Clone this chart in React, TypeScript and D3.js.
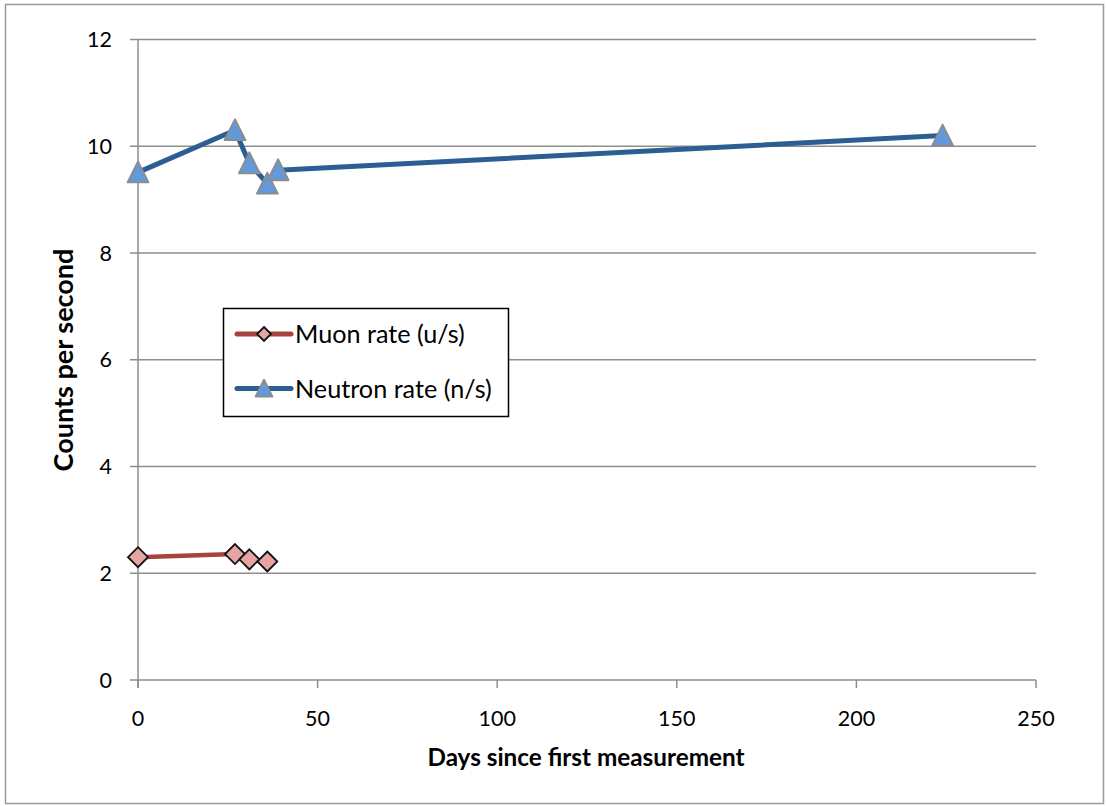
import React from "react";
import * as d3 from "d3";

// Measurement days and rates
const muonDays = [0, 27, 31, 36];
const muonRates = [2.3, 2.36, 2.26, 2.22];
const neutronDays = [0, 27, 31, 36, 39, 224];
const neutronRates = [9.51, 10.3, 9.68, 9.3, 9.55, 10.2];
const xTicks = [0, 50, 100, 150, 200, 250];
const yTicks = [0, 2, 4, 6, 8, 10, 12];
const seriesNames = ["Muon rate (u/s)", "Neutron rate (n/s)"];

const W = 1106;
const H = 806;
const plot = { left: 138, right: 1036, top: 39.5, bottom: 680 };
const font = "Lato, 'Open Sans', sans-serif";

const muonColor = "#A8423E";
const muonFill = "#E6A5A2";
const neutronColor = "#2C5D93";
const neutronFill = "#6399D8";
const gridColor = "#8E8E8E";

export default function App() {
  const x = d3.scaleLinear().domain([0, 250]).range([plot.left, plot.right]);
  const y = d3.scaleLinear().domain([0, 12]).range([plot.bottom, plot.top]);
  const line = d3.line<[number, number]>().x((d) => x(d[0])).y((d) => y(d[1]));

  const muon: [number, number][] = muonDays.map((d, i) => [d, muonRates[i]]);
  const neutron: [number, number][] = neutronDays.map((d, i) => [d, neutronRates[i]]);

  const diamond = (cx: number, cy: number, key: string | number, r = 10) => (
    <path
      key={key}
      d={`M${cx},${cy - r}L${cx + r},${cy}L${cx},${cy + r}L${cx - r},${cy}Z`}
      fill={muonFill}
      stroke="#111"
      strokeWidth={1.8}
    />
  );
  const triangle = (cx: number, cy: number, key: string | number, r = 10.5) => (
    <path
      key={key}
      d={`M${cx},${cy - r * 1.05}L${cx + r},${cy + r * 0.95}L${cx - r},${cy + r * 0.95}Z`}
      fill={neutronFill}
      stroke="#8C8C8C"
      strokeWidth={1.8}
      strokeLinejoin="round"
    />
  );

  const legend = { x: 223.5, y: 308.5, w: 285, h: 108 };

  return (
    <svg width={W} height={H} style={{ position: "absolute", left: 0, top: 0 }}>
      <rect x={0} y={0} width={W} height={H} fill="#fff" />
      <rect x={5.5} y={4.5} width={1098} height={799} fill="#fff" stroke="#9A9A9A" strokeWidth={1.5} />

      {/* horizontal grid + y ticks */}
      {yTicks.map((t) => (
        <g key={t}>
          <line x1={plot.left - 8} x2={plot.right} y1={y(t)} y2={y(t)} stroke={gridColor} strokeWidth={1.5} />
          <text x={112} y={y(t)} dy="0.36em" textAnchor="end" fontFamily={font} fontSize={21.5} fill="#000">
            {t}
          </text>
        </g>
      ))}
      {/* y axis */}
      <line x1={plot.left} x2={plot.left} y1={plot.top} y2={plot.bottom + 8} stroke={gridColor} strokeWidth={1.5} />
      {/* x ticks */}
      {xTicks.map((t) => (
        <g key={t}>
          <line x1={x(t)} x2={x(t)} y1={plot.bottom} y2={plot.bottom + 8} stroke={gridColor} strokeWidth={1.5} />
          <text x={x(t)} y={718} dy="0.36em" textAnchor="middle" fontFamily={font} fontSize={21.5} fill="#000">
            {t}
          </text>
        </g>
      ))}

      {/* series */}
      <path d={line(muon) || ""} fill="none" stroke={muonColor} strokeWidth={4.5} strokeLinejoin="round" />
      <path d={line(neutron) || ""} fill="none" stroke={neutronColor} strokeWidth={5} strokeLinejoin="round" />
      {muon.map((d, i) => diamond(x(d[0]), y(d[1]), i))}
      {neutron.map((d, i) => triangle(x(d[0]), y(d[1]), i))}

      {/* axis titles */}
      <text
        transform={`translate(73,360) rotate(-90)`}
        textAnchor="middle"
        fontFamily={font}
        fontWeight="bold"
        fontSize={27}
        fill="#000"
      >
        Counts per second
      </text>
      <text x={586} y={765.5} textAnchor="middle" fontFamily={font} fontWeight="bold" fontSize={24.3} fill="#000">
        Days since first measurement
      </text>

      {/* legend */}
      <rect x={legend.x} y={legend.y} width={legend.w} height={legend.h} fill="#fff" stroke="#000" strokeWidth={1.5} />
      {[0, 1].map((i) => {
        const cy = 334 + i * 54.5;
        return (
          <g key={i}>
            <line
              x1={237}
              x2={291}
              y1={cy}
              y2={cy}
              stroke={i === 0 ? muonColor : neutronColor}
              strokeWidth={5}
              strokeLinecap="round"
            />
            {i === 0 ? diamond(264, cy, "lg0", 7) : triangle(264, cy, "lg1", 8.5)}
            <text x={295} y={cy} dy="0.36em" fontFamily={font} fontSize={25.2} fill="#000">
              {seriesNames[i]}
            </text>
          </g>
        );
      })}
    </svg>
  );
}
